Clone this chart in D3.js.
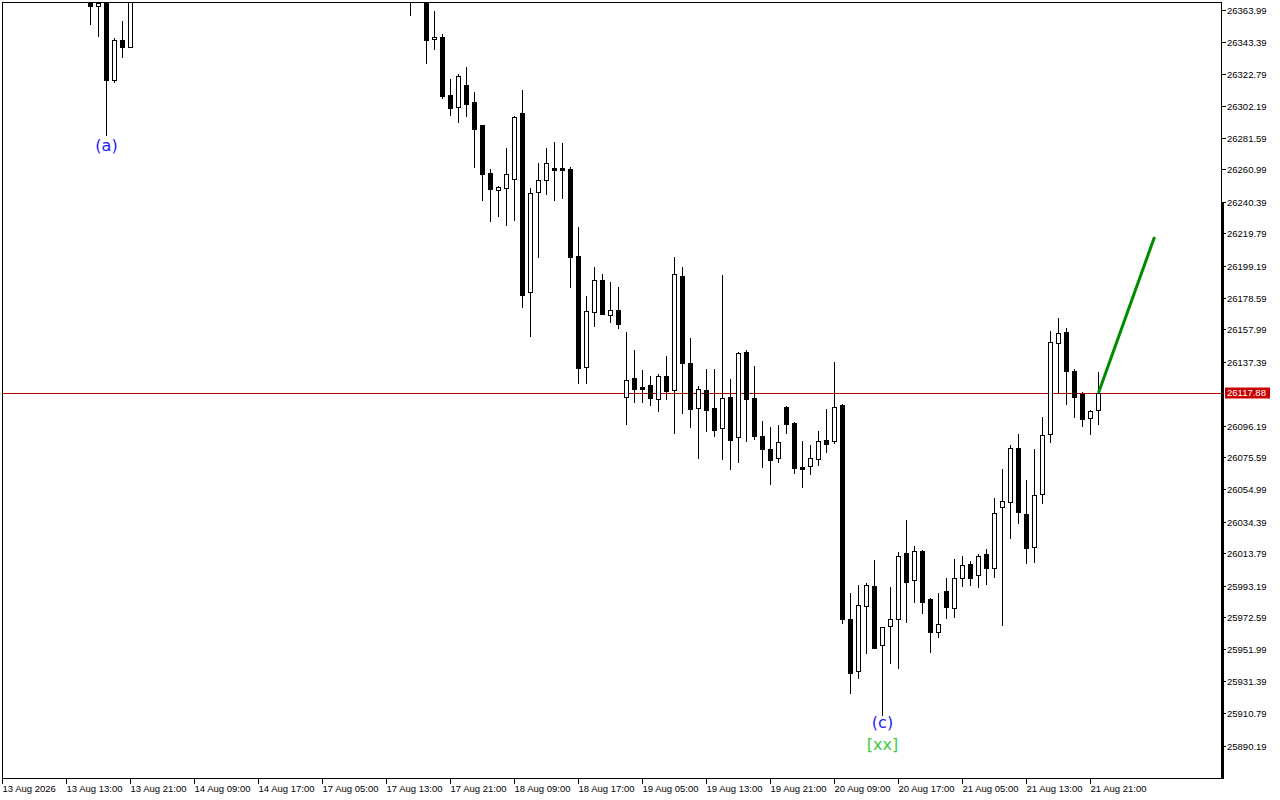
<!DOCTYPE html>
<html><head><meta charset="utf-8">
<script src="https://cdn.jsdelivr.net/npm/d3@7"></script>
<style>body{margin:0;background:#fff}svg{display:block}</style>
</head><body><svg id="c" width="1280" height="800"></svg>
<script>
// ---- data (H1 bars, index = bar number from left edge) ----
const barIndex = [11,12,13,14,15,16,51].concat(d3.range(53,138));
const open = [26370.7,26366.6,26376.0,26319.2,26345.0,26340.8,26375.0,
26378.0,26345.5,26346.7,26309.4,26301.7,26315.8,26304.9,26290.3,26259.2,26248.6,
26249.9,26255.7,26298.0,26182.6,26246.9,26255.1,26262.6,26262.6,26261.9,26205.9,
26134.7,26170.1,26190.3,26168.2,26171.0,26115.0,26127.4,26121.8,26122.9,26114.1,
26128.5,26119.5,26193.1,26137.1,26107.9,26119.5,26108.1,26095.0,26115.2,26089.6,
26144.2,26114.5,26090.1,26081.7,26075.7,26108.7,26098.4,26070.1,26070.6,26075.1,
26087.5,26086.7,26110.0,25972.1,25938.6,25980.8,25993.3,25955.3,25967.6,25972.1,
26014.8,25997.2,26016.0,25985.1,25963.7,25990.0,25979.2,25998.9,26007.5,26000.4,
26013.9,26004.9,26044.2,26047.8,26082.2,26039.7,26018.8,26052.5,26091.2,26149.8,
26156.8,26131.7,26117.3,26101.5,26106.6];
const high = [26374.0,26371.0,26380.0,26346.3,26357.2,26380.0,26380.0,
26382.0,26363.7,26348.7,26319.9,26323.1,26327.4,26311.5,26290.6,26262.0,26251.0,
26275.5,26296.1,26312.8,26249.5,26265.6,26275.5,26279.3,26278.7,26263.2,26224.6,
26180.2,26198.9,26194.4,26189.2,26185.9,26157.0,26145.4,26132.6,26128.7,26130.0,
26141.6,26205.3,26198.9,26153.1,26122.3,26133.4,26133.2,26193.7,26126.8,26143.9,
26145.4,26135.1,26099.7,26095.9,26097.2,26109.4,26099.1,26086.8,26084.5,26093.1,
26107.3,26137.5,26110.7,25988.8,25993.9,25995.4,26010.0,25967.1,25992.6,26015.4,
26035.8,26019.1,26016.7,25985.8,25988.8,25998.6,26010.9,26012.8,26009.6,26014.1,
26017.3,26050.0,26068.6,26084.5,26091.2,26061.6,26081.5,26102.3,26157.7,26165.8,
26159.4,26133.2,26118.6,26106.8,26131.3];
const low = [26355.3,26347.6,26283.8,26318.0,26334.1,26340.2,26361.1,
26329.9,26339.4,26307.9,26296.7,26292.4,26296.3,26263.4,26242.2,26228.7,26231.9,
26226.1,26229.3,26173.3,26154.6,26205.5,26246.1,26242.2,26243.5,26186.2,26124.4,
26124.4,26160.9,26168.6,26163.5,26159.8,26097.9,26112.2,26112.2,26110.2,26106.3,
26114.1,26092.2,26105.1,26096.1,26076.1,26093.5,26090.3,26075.5,26069.0,26073.5,
26087.1,26087.9,26070.3,26059.4,26073.5,26092.2,26066.4,26057.4,26065.8,26071.6,
26080.0,26085.4,25969.5,25924.8,25934.5,25950.6,25953.6,25910.5,25943.8,25940.5,
25970.1,25983.4,25975.9,25951.2,25960.9,25973.1,25973.7,25993.7,25994.3,25993.1,
25994.5,25999.1,25968.2,26024.6,26034.3,26008.1,26009.1,26047.1,26086.4,26117.6,
26110.9,26102.5,26096.7,26091.6,26097.9];
const close = [26366.6,26368.8,26319.2,26345.0,26340.2,26376.0,26372.0,
26344.7,26346.7,26308.9,26301.4,26321.6,26304.0,26287.9,26258.9,26249.3,26250.2,
26258.5,26295.4,26181.0,26246.3,26254.7,26265.8,26261.6,26261.0,26205.5,26134.0,
26170.3,26190.3,26168.8,26171.0,26162.4,26125.9,26120.5,26120.5,26114.7,26128.5,
26119.2,26194.2,26137.3,26107.6,26120.1,26107.0,26094.1,26114.3,26087.7,26143.3,
26114.1,26090.3,26081.9,26074.8,26086.0,26097.6,26069.7,26069.0,26075.7,26086.7,
26085.1,26108.6,25972.1,25937.7,25981.1,25993.9,25953.8,25966.9,25972.1,26012.6,
25995.9,26015.9,25983.4,25964.1,25968.9,25979.8,25998.5,26006.8,25998.9,26012.6,
26005.3,26040.3,26048.4,26082.2,26041.3,26018.2,26051.9,26090.5,26150.4,26156.2,
26131.7,26115.4,26101.2,26105.9,26117.88];

const priceTicks = [26363.99,26343.39,26322.79,26302.19,26281.59,26260.99,26240.39,
26219.79,26199.19,26178.59,26157.99,26137.39,26117.88,26096.19,26075.59,26054.99,
26034.39,26013.79,25993.19,25972.59,25951.99,25931.39,25910.79,25890.19];
const timeTickBars = [0,8,16,24,32,40,48,56,64,72,80,88,96,104,112,120,128,136];
const timeTickLabels = ["13 Aug 2026","13 Aug 13:00","13 Aug 21:00","14 Aug 09:00",
"14 Aug 17:00","17 Aug 05:00","17 Aug 13:00","17 Aug 21:00","18 Aug 09:00",
"18 Aug 17:00","19 Aug 05:00","19 Aug 13:00","19 Aug 21:00","20 Aug 09:00",
"20 Aug 17:00","21 Aug 05:00","21 Aug 13:00","21 Aug 21:00"];
const lastPrice = 26117.88;
const projBars = [137, 144];
const projPrices = [26117.88, 26218.2];
const annoText = ["(a)", "(c)", "[xx]"];
const annoBar = [13, 110, 110];
const annoPrice = [26273.6, 25902.0, 25887.9];

// ---- layout ----
const L = 2, R = 1221, T = 2, B = 778;
const svg = d3.select("#c");
const FONT = "'Liberation Sans', Arial, sans-serif";
svg.append("rect").attr("width",1280).attr("height",800).attr("fill","#fff");

const x = d3.scaleLinear().domain([0, 1]).range([2.5, 10.5]);
const y = d3.scaleLinear().domain([25890.19, 26363.99]).range([746.5, 10.5]);

svg.append("clipPath").attr("id","plot").append("rect")
  .attr("x", L).attr("y", T + 1).attr("width", R - L).attr("height", B - T - 1);

const g = svg.append("g").attr("clip-path","url(#plot)");

// last price line
const yl = Math.round(y(lastPrice)) + 0.5;
g.append("line").attr("x1", L).attr("x2", R).attr("y1", yl).attr("y2", yl)
  .attr("stroke", "#b40000").attr("stroke-width", 1);

// candles
const candles = barIndex.map((b, i) => ({b, o: open[i], h: high[i], l: low[i], c: close[i]}));
const cg = g.append("g");
candles.forEach(d => {
  const cx = x(d.b);
  const yh = Math.round(y(d.h)), yl2 = Math.round(y(d.l));
  cg.append("line").attr("x1", cx).attr("x2", cx).attr("y1", yh).attr("y2", yl2 + 1)
    .attr("stroke", "#000").attr("stroke-width", 1);
  const top = Math.round(y(Math.max(d.o, d.c)));
  const bot = Math.round(y(Math.min(d.o, d.c)));
  if (d.c > d.o) {
    cg.append("rect").attr("x", cx - 2).attr("y", top + 0.5)
      .attr("width", 4).attr("height", Math.max(bot - top, 1))
      .attr("fill", "#fff").attr("stroke", "#000").attr("stroke-width", 1);
  } else {
    cg.append("rect").attr("x", cx - 2.5).attr("y", top)
      .attr("width", 5).attr("height", Math.max(bot - top + 1, 2))
      .attr("fill", "#000");
  }
});

// projection line
g.append("line")
  .attr("x1", x(projBars[0])).attr("y1", y(projPrices[0]))
  .attr("x2", x(projBars[1])).attr("y2", y(projPrices[1]))
  .attr("stroke", "#008c00").attr("stroke-width", 3);

// annotations
const annoColors = ["#1a1aff", "#1a1aff", "#3ccc3c"];
annoText.forEach((t, i) => {
  g.append("text").attr("x", x(annoBar[i])).attr("y", y(annoPrice[i]))
    .attr("text-anchor", "middle").attr("fill", annoColors[i])
    .attr("font-family", "'DejaVu Sans', sans-serif").attr("font-size", 16)
    .text(t);
});

// frame
const frame = svg.append("g").attr("stroke", "#000").attr("stroke-width", 1);
frame.append("line").attr("x1", L).attr("x2", R + 1).attr("y1", T + 0.5).attr("y2", T + 0.5);
frame.append("line").attr("x1", L + 0.5).attr("x2", L + 0.5).attr("y1", T).attr("y2", B + 1);
frame.append("line").attr("x1", L).attr("x2", R + 1).attr("y1", B + 0.5).attr("y2", B + 0.5);
frame.append("line").attr("x1", R + 0.5).attr("x2", R + 0.5).attr("y1", T).attr("y2", B + 1);
svg.append("rect").attr("x", R).attr("y", 203).attr("width", 3).attr("height", B - 203 + 1).attr("fill", "#000");

// price axis
priceTicks.forEach(v => {
  const yy = Math.round(y(v)) - 0.5;
  if (v === lastPrice) {
    svg.append("rect").attr("x", 1225).attr("y", yy - 5).attr("width", 45).attr("height", 11)
      .attr("fill", "#c80000");
    svg.append("text").attr("x", 1227).attr("y", yy + 0.5).attr("dy", "0.35em")
      .attr("fill", "#fff").attr("font-family", FONT).attr("font-size", 9.5).text(v.toFixed(2));
  } else {
    svg.append("line").attr("x1", R + 1).attr("x2", R + 5).attr("y1", yy).attr("y2", yy)
      .attr("stroke", "#000");
    svg.append("text").attr("x", 1227).attr("y", yy).attr("dy", "0.35em")
      .attr("fill", "#000").attr("font-family", FONT).attr("font-size", 9.5).text(v.toFixed(2));
  }
});

// time axis
timeTickBars.forEach((b, i) => {
  const xx = Math.round(x(b)) - 0.5;
  svg.append("line").attr("x1", xx).attr("x2", xx).attr("y1", B).attr("y2", B + 6)
    .attr("stroke", "#000");
  svg.append("text").attr("x", xx).attr("y", 792)
    .attr("fill", "#000").attr("font-family", FONT).attr("font-size", 9.5).text(timeTickLabels[i]);
});
</script></body></html>
